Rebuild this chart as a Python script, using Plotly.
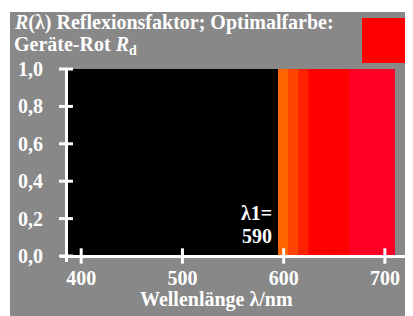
import plotly.graph_objects as go

# ---- data ----
wavelengths = [600, 610, 620, 630, 640, 650, 660, 670, 680, 690, 700, 710]
reflectance = [1.0, 1.0, 1.0, 1.0, 1.0, 1.0, 1.0, 1.0, 1.0, 1.0, 1.0, 1.0]
bar_colors = ["#FF6600", "#FF4400", "#FF2200", "#FF0000", "#FF0000", "#FF0000",
              "#FF0000", "#FF0025", "#FF0025", "#FF0025", "#FF0025", "#FF0025"]
x_tickvals = [400, 500, 600, 700]
x_ticktext = ["400", "500", "600", "700"]
y_tickvals = [0.0, 0.2, 0.4, 0.6, 0.8, 1.0]
y_ticktext = ["0,0", "0,2", "0,4", "0,6", "0,8", "1,0"]
lambda1 = 590
x_range = [385, 710]

W, H = 413, 316
OFF = 8  # page body margin
L, PW = 66 - OFF, 329
T, PH = 69 - OFF, 187
R = W - L - PW
B = H - T - PH
GRAY = "#888888"
FONT = "Liberation Serif"
FS = 20


def px(x):
    return (x - OFF - L) / PW


def py(y):
    return (H - B - (y - OFF)) / PH


fig = go.Figure()
fig.add_trace(go.Bar(x=wavelengths, y=reflectance, width=10,
                     marker=dict(color=bar_colors, line=dict(width=1, color=bar_colors)),
                     hoverinfo="skip", showlegend=False))
# tick marks crossing the axes
fig.add_trace(go.Scatter(x=x_tickvals, y=[0] * len(x_tickvals), mode="markers",
                         marker=dict(symbol="line-ns", size=11,
                                     line=dict(color="white", width=3)),
                         cliponaxis=False, showlegend=False, hoverinfo="skip"))
fig.add_trace(go.Scatter(x=[x_range[0]] * len(y_tickvals), y=y_tickvals, mode="markers",
                         marker=dict(symbol="line-ew", size=10,
                                     line=dict(color="white", width=3)),
                         cliponaxis=False, showlegend=False, hoverinfo="skip"))

shapes = [
    dict(type="rect", xref="paper", yref="paper", x0=px(10), x1=px(430), y0=py(12), y1=py(330),
         fillcolor=GRAY, line=dict(width=0), layer="below"),
    dict(type="rect", xref="paper", yref="paper", x0=0, x1=1, y0=0, y1=1,
         fillcolor="black", line=dict(width=0), layer="below"),
    dict(type="line", xref="paper", yref="paper", x0=px(61), x1=px(407), y0=py(256.5), y1=py(256.5),
         line=dict(color="white", width=3), layer="above"),
    dict(type="line", xref="paper", yref="paper", x0=px(66.5), x1=px(66.5), y0=py(68), y1=py(262),
         line=dict(color="white", width=3), layer="above"),
    dict(type="rect", xref="paper", yref="paper", x0=px(362), x1=px(407), y0=py(18), y1=py(63),
         fillcolor="#FF0000", line=dict(width=0), layer="above"),
]

tf = dict(family=FONT, size=FS, color="white", weight="bold")
annotations = [
    dict(xref="paper", yref="paper", x=px(12), y=py(9), xanchor="left", yanchor="top",
         text="<i>R</i>(λ) Reflexionsfaktor; Optimalfarbe:", showarrow=False, font=tf),
    dict(xref="paper", yref="paper", x=px(12), y=py(31), xanchor="left", yanchor="top",
         text="Geräte-Rot <i>R</i><sub>d</sub>", showarrow=False, font=tf),
    dict(xref="paper", yref="paper", x=px(216), y=py(299), xanchor="center", yanchor="middle",
         text="Wellenlänge λ/nm", showarrow=False, font=tf),
    dict(xref="x", yref="y", x=lambda1, y=0.163, xanchor="right", yanchor="bottom", align="right",
         text="λ1=", showarrow=False, font=tf),
    dict(xref="x", yref="y", x=lambda1, y=0.035, xanchor="right", yanchor="bottom", align="right",
         text="%d" % lambda1, showarrow=False, font=tf),
]

fig.update_layout(
    width=W, height=H, margin=dict(l=L, r=R, t=T, b=B, pad=0, autoexpand=False),
    paper_bgcolor="white", plot_bgcolor="rgba(0,0,0,0)",
    separators=",.", shapes=shapes, annotations=annotations, showlegend=False,
    xaxis=dict(range=x_range, tickvals=x_tickvals, ticktext=x_ticktext,
               ticks="outside", ticklen=4, tickcolor="rgba(0,0,0,0)",
               showgrid=False, zeroline=False, showline=False, tickfont=tf),
    yaxis=dict(range=[0, 1], tickvals=y_tickvals, ticktext=y_ticktext,
               ticks="outside", ticklen=18, tickcolor="rgba(0,0,0,0)",
               showgrid=False, zeroline=False, showline=False, tickfont=tf),
)

fig.write_html("out.html")
